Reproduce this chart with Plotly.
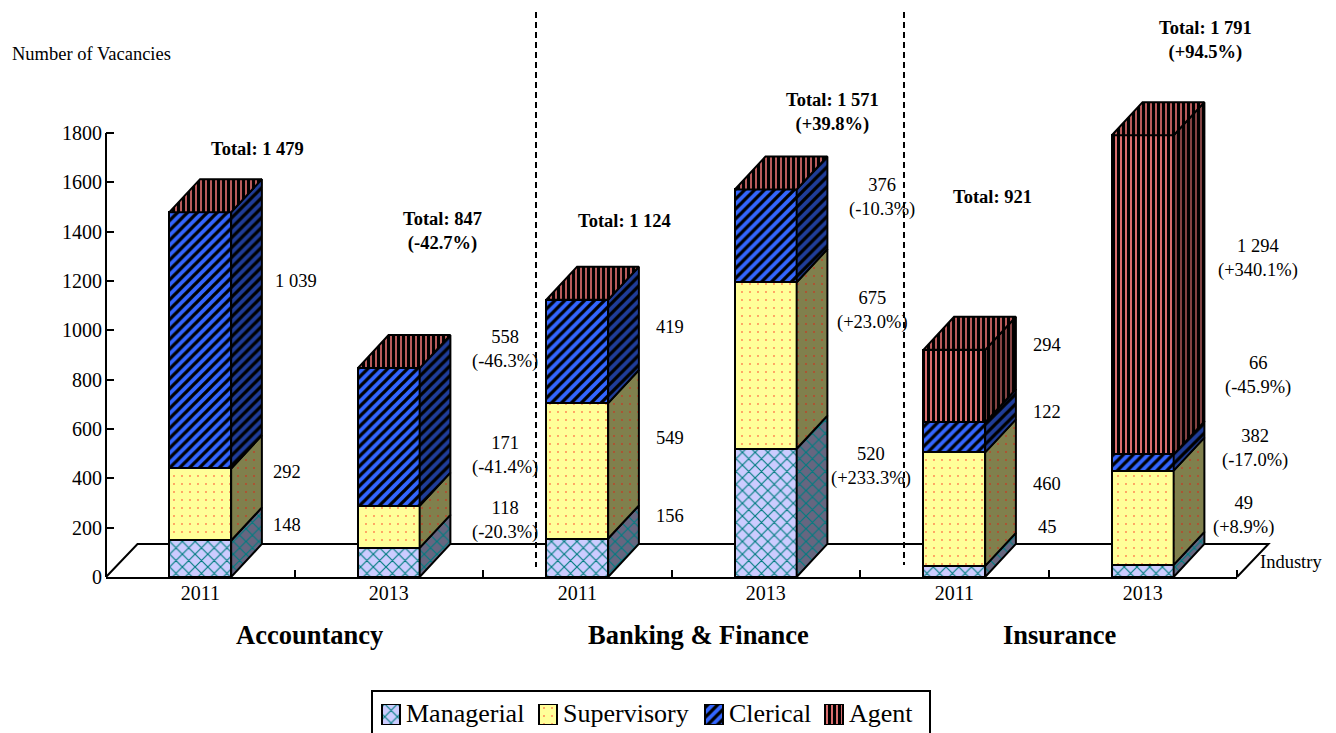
import plotly.graph_objects as go

WIDTH, HEIGHT = 1336, 733

# Vacancy counts per sector and year
years = ["2011", "2013", "2011", "2013", "2011", "2013"]
sectors = ["Accountancy", "Banking & Finance", "Insurance"]
managerial = [148, 118, 156, 520, 45, 49]
supervisory = [292, 171, 549, 675, 460, 382]
clerical = [1039, 558, 419, 376, 122, 66]
agent = [0, 0, 0, 0, 294, 1294]
totals = [1479, 847, 1124, 1571, 921, 1791]

# Year-on-year change printed beside the 2013 columns
total_change = [None, -42.7, None, 39.8, None, 94.5]
managerial_change = [None, -20.3, None, 233.3, None, 8.9]
supervisory_change = [None, -41.4, None, 23.0, None, -17.0]
clerical_change = [None, -46.3, None, -10.3, None, -45.9]
agent_change = [None, None, None, None, None, 340.1]

# Plot frame in pixels and the oblique projection used for the 3D look
LEFT, RIGHT, TOP, BOTTOM = 106, 1237, 133, 577
Y_MAX_TICK = 1800
Y_HEADROOM = 1950  # room above the last tick for the tallest column's top face
PX_PER_UNIT = (BOTTOM - TOP) / Y_MAX_TICK
BAR_W = 0.328
DEPTH_X = 0.163
DEPTH_Y = 134
SERIF = "Liberation Serif"


def paper_x(px):
    return px / WIDTH


def paper_y(py):
    return 1 - py / HEIGHT


def fmt(v):
    return f"{v:,}".replace(",", " ")


def pct(v):
    return f"({v:+.1f}%)"


series = [
    dict(name="Managerial", values=managerial, change=managerial_change,
         front="#ccccff", side="#666680", fg="#007c80", shape="x", size=9, solidity=0.24),
    dict(name="Supervisory", values=supervisory, change=supervisory_change,
         front="#ffff99", side="#80804d", fg="#ff0000", shape=".", size=8, solidity=0.02),
    dict(name="Clerical", values=clerical, change=clerical_change,
         front="#3366ff", side="#1f3d99", fg="#000000", shape="/", size=7, solidity=0.47),
    dict(name="Agent", values=agent, change=agent_change,
         front="#ff8080", side="#994d4d", fg="#000000", shape="|", size=5, solidity=0.66),
]

fig = go.Figure()

xs = list(range(len(years)))
base = [0] * len(xs)
side_traces = []
for s in series:
    pattern = dict(shape=s["shape"], size=s["size"], solidity=s["solidity"], fgcolor=s["fg"], fgopacity=1)
    fig.add_trace(go.Bar(
        x=xs, y=s["values"], base=base, name=s["name"], width=BAR_W, showlegend=False,
        marker=dict(color=s["front"], line=dict(color="black", width=2),
                    pattern=dict(bgcolor=s["front"], **pattern)),
        cliponaxis=False, hoverinfo="skip",
    ))
    # Right-hand face of each segment
    px_, py_ = [], []
    for i, v in enumerate(s["values"]):
        if v == 0:
            continue
        xr = i + BAR_W / 2
        b, t = base[i], base[i] + v
        px_ += [xr, xr + DEPTH_X, xr + DEPTH_X, xr, xr, None]
        py_ += [b, b + DEPTH_Y, t + DEPTH_Y, t, b, None]
    side_traces.append(go.Scatter(
        x=px_, y=py_, mode="lines", fill="toself", fillcolor=s["side"],
        fillpattern=dict(bgcolor=s["side"], **pattern),
        line=dict(color="black", width=2), showlegend=False, cliponaxis=False, hoverinfo="skip",
    ))
    base = [b + v for b, v in zip(base, s["values"])]

for tr in side_traces:
    fig.add_trace(tr)

# Top face of each column uses the Agent fill
top_x, top_y = [], []
for i, t in enumerate(totals):
    xl, xr = i - BAR_W / 2, i + BAR_W / 2
    top_x += [xl, xl + DEPTH_X, xr + DEPTH_X, xr, xl, None]
    top_y += [t, t + DEPTH_Y, t + DEPTH_Y, t, t, None]
fig.add_trace(go.Scatter(
    x=top_x, y=top_y, mode="lines", fill="toself", fillcolor="#d96b6b",
    fillpattern=dict(bgcolor="#d96b6b", shape="|", size=5, solidity=0.66, fgcolor="#000000", fgopacity=1),
    line=dict(color="black", width=2), showlegend=False, cliponaxis=False, hoverinfo="skip",
))

annotations = []


def label(text, cx, cy, size=18.5, bold=False, anchor="center"):
    annotations.append(dict(
        text=f"<b>{text}</b>" if bold else text, x=paper_x(cx), y=paper_y(cy),
        xref="paper", yref="paper", xanchor=anchor, yanchor="middle", showarrow=False,
        font=dict(family=SERIF, size=size, color="black"),
    ))


def with_change(idx, i):
    s = series[idx]
    text = fmt(s["values"][i])
    if s["change"][i] is not None:
        text += "<br>" + pct(s["change"][i])
    return text


def total_label(i):
    text = f"Total: {fmt(totals[i])}"
    if total_change[i] is not None:
        text += "<br>" + pct(total_change[i])
    return text


# Totals, column by column
for i, (cx, cy) in enumerate([(257, 149), (442, 231), (624, 221), (832, 112), (992, 197), (1205, 40)]):
    label(total_label(i), cx, cy, bold=True)

# Segment figures: (series index, column, centre x, centre y)
for idx, i, cx, cy in [
    (2, 0, 296, 281), (1, 0, 287, 472), (0, 0, 287, 525),
    (2, 1, 505, 349), (1, 1, 505, 455), (0, 1, 505, 520),
    (2, 2, 670, 327), (1, 2, 670, 438), (0, 2, 670, 516),
    (2, 3, 882, 197), (1, 3, 872, 310), (0, 3, 871, 466),
    (3, 4, 1047, 345), (2, 4, 1047, 412), (1, 4, 1047, 484), (0, 4, 1047, 527),
    (3, 5, 1258, 258), (2, 5, 1258, 375), (1, 5, 1255, 448), (0, 5, 1243, 515),
]:
    label(with_change(idx, i), cx, cy)

for name, cx in zip(sectors, [309, 698, 1060]):
    label(name, cx, 635, size=26.5, bold=True)

label("Number of Vacancies", 91, 54)
label("Industry", 1291, 562)

# Floor of the 3D box, kept beneath the columns
floor_dx = 31.5
floor_dy = DEPTH_Y * PX_PER_UNIT
floor_path = "M {} {} L {} {} L {} {} L {} {}".format(
    paper_x(LEFT), paper_y(BOTTOM),
    paper_x(LEFT + floor_dx), paper_y(BOTTOM - floor_dy),
    paper_x(RIGHT + floor_dx), paper_y(BOTTOM - floor_dy),
    paper_x(RIGHT), paper_y(BOTTOM),
)
shapes = [dict(type="path", path=floor_path, xref="paper", yref="paper", layer="below",
               line=dict(color="black", width=2))]

# Dashed dividers between the sectors
for px_pos, bottom in [(536, 567), (904, 565)]:
    shapes.append(dict(type="line", xref="paper", yref="paper",
                       x0=paper_x(px_pos), x1=paper_x(px_pos), y0=paper_y(12), y1=paper_y(bottom),
                       line=dict(color="black", width=2, dash="6px,4px")))

# Vertical axis line stops at the last tick, below the headroom
shapes.append(dict(type="line", xref="paper", yref="y", x0=paper_x(LEFT), x1=paper_x(LEFT),
                   y0=0, y1=Y_MAX_TICK, line=dict(color="black", width=2)))

# Key: a boxed row of swatches drawn on a hidden pair of axes
KEY_LEFT, KEY_RIGHT, KEY_TOP, KEY_BOTTOM = 372, 930, 704, 725
key_swatch_px = [391, 548, 714, 834]
key_text_px = [404, 561, 727, 847]
for s, cx, tx in zip(series, key_swatch_px, key_text_px):
    fig.add_trace(go.Bar(
        x=[cx - KEY_LEFT], y=[1], width=18, xaxis="x2", yaxis="y2", showlegend=False, hoverinfo="skip",
        marker=dict(color=s["front"], line=dict(color="black", width=2),
                    pattern=dict(bgcolor=s["front"], shape=s["shape"], size=s["size"],
                                 solidity=s["solidity"], fgcolor=s["fg"], fgopacity=1)),
    ))
    label(s["name"], tx, 713, size=26, anchor="left")
shapes.append(dict(type="rect", xref="paper", yref="paper",
                   x0=paper_x(KEY_LEFT), x1=paper_x(KEY_RIGHT), y0=paper_y(691), y1=paper_y(745),
                   line=dict(color="black", width=2)))

fig.update_layout(
    width=WIDTH, height=HEIGHT, margin=dict(l=0, r=0, t=0, b=0, autoexpand=False),
    paper_bgcolor="white", plot_bgcolor="white",
    barmode="overlay", bargap=0, showlegend=False,
    font=dict(family=SERIF, size=19, color="black"),
    annotations=annotations, shapes=shapes,
    xaxis=dict(domain=[paper_x(LEFT), paper_x(RIGHT)], range=[-0.5, 5.5],
               tickmode="array", tickvals=xs, ticktext=years, ticks="", showgrid=False, zeroline=False,
               showline=True, linecolor="black", linewidth=2, ticklabelstandoff=-3,
               tickfont=dict(family=SERIF, size=20),
               minor=dict(tickmode="array", tickvals=[k - 0.5 for k in range(len(xs) + 1)],
                          ticks="inside", ticklen=7, tickwidth=2, tickcolor="black", showgrid=False)),
    yaxis=dict(domain=[paper_y(BOTTOM), paper_y(BOTTOM - Y_HEADROOM * PX_PER_UNIT)], range=[0, Y_HEADROOM],
               tickmode="array", tickvals=list(range(0, Y_MAX_TICK + 1, 200)),
               ticks="inside", ticklen=8, tickwidth=2, tickcolor="black", ticklabelstandoff=3,
               showgrid=False, zeroline=False, showline=False,
               tickfont=dict(family=SERIF, size=20)),
    xaxis2=dict(domain=[paper_x(KEY_LEFT), paper_x(KEY_RIGHT)], range=[0, KEY_RIGHT - KEY_LEFT],
                anchor="y2", visible=False),
    yaxis2=dict(domain=[paper_y(KEY_BOTTOM), paper_y(KEY_TOP)], range=[0, 1], anchor="x2", visible=False),
)

fig.write_html("out.html")
